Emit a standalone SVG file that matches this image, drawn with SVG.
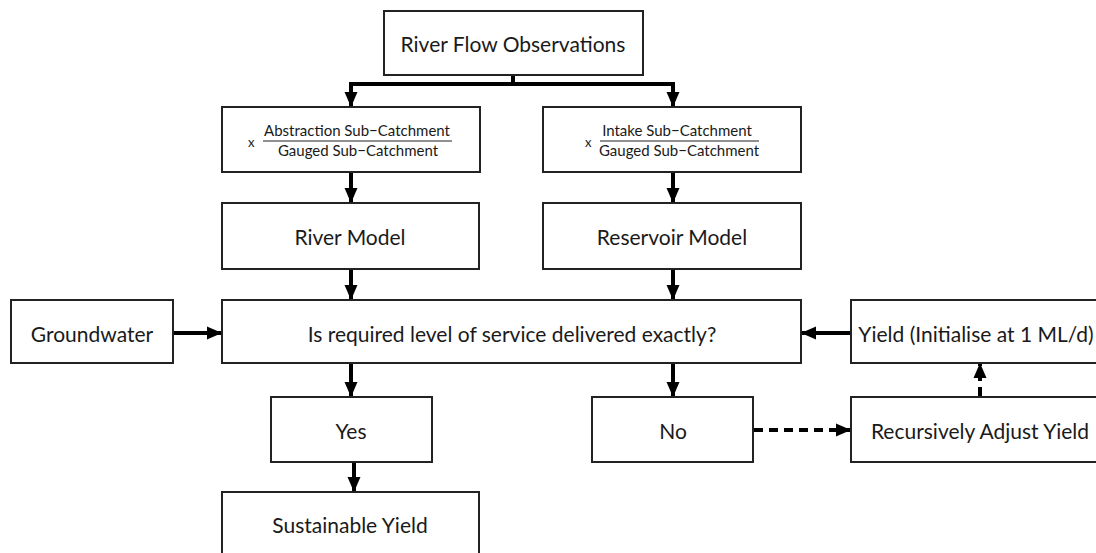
<svg xmlns="http://www.w3.org/2000/svg" width="1096" height="553" viewBox="0 0 1096 553">
<style>
.box{fill:#fff;stroke:#222;stroke-width:2}
.t{font-family:Lato,"Open Sans","Liberation Sans",sans-serif;font-size:21px;fill:#1a1a1a;text-anchor:middle;dominant-baseline:central}
.f{font-family:Lato,"Open Sans","Liberation Sans",sans-serif;font-size:15px;fill:#1a1a1a;text-anchor:middle}
.x{font-family:Lato,"Open Sans","Liberation Sans",sans-serif;font-size:13px;fill:#1a1a1a}
.c{fill:none;stroke:#000;stroke-width:4}
.d{fill:none;stroke:#000;stroke-width:4;stroke-dasharray:9 6}
</style>
<defs>
<marker id="ah" markerUnits="userSpaceOnUse" markerWidth="15" markerHeight="15" viewBox="0 0 15 15" refX="14" refY="7.5" orient="auto">
<path d="M0,1 L15,7.5 L0,14 z" fill="#000"/>
</marker>
</defs>
<g id="connectors">
<path class="c" d="M513,75 V84 M349,84 H675"/>
<path class="c" d="M351,84 V106" marker-end="url(#ah)"/>
<path class="c" d="M673,84 V106" marker-end="url(#ah)"/>
<path class="c" d="M351,172 V202" marker-end="url(#ah)"/>
<path class="c" d="M673,172 V202" marker-end="url(#ah)"/>
<path class="c" d="M351,269 V299" marker-end="url(#ah)"/>
<path class="c" d="M673,269 V299" marker-end="url(#ah)"/>
<path class="c" d="M173,333 H221" marker-end="url(#ah)"/>
<path class="c" d="M851,333 H802" marker-end="url(#ah)"/>
<path class="c" d="M351,363 V396" marker-end="url(#ah)"/>
<path class="c" d="M673,363 V396" marker-end="url(#ah)"/>
<path class="c" d="M354,462 V491" marker-end="url(#ah)"/>
<path class="d" d="M754,430 H850" marker-end="url(#ah)"/>
<path class="d" d="M980,396 V364" marker-end="url(#ah)"/>
</g>
<g id="obs"><rect class="box" x="384" y="11" width="259" height="64"/><text class="t" x="513" y="43">River Flow Observations</text></g>
<g id="scale-left"><rect class="box" x="222" y="107" width="258" height="65"/>
<text class="x" x="248" y="147">x</text>
<text class="f" x="357" y="136">Abstraction Sub−Catchment</text>
<line x1="263" y1="141" x2="452" y2="141" stroke="#222" stroke-width="1.2"/>
<text class="f" x="358" y="156">Gauged Sub−Catchment</text></g>
<g id="scale-right"><rect class="box" x="543" y="107" width="258" height="65"/>
<text class="x" x="585" y="147">x</text>
<text class="f" x="677" y="136">Intake Sub−Catchment</text>
<line x1="600" y1="141" x2="759" y2="141" stroke="#222" stroke-width="1.2"/>
<text class="f" x="679" y="156">Gauged Sub−Catchment</text></g>
<g id="river"><rect class="box" x="222" y="203" width="257" height="66"/><text class="t" x="350" y="236">River Model</text></g>
<g id="reservoir"><rect class="box" x="543" y="203" width="258" height="66"/><text class="t" x="672" y="236">Reservoir Model</text></g>
<g id="question"><rect class="box" x="222" y="300" width="579" height="63"/><text class="t" x="512" y="333">Is required level of service delivered exactly?</text></g>
<g id="groundwater"><rect class="box" x="11" y="300" width="162" height="63"/><text class="t" x="92" y="333">Groundwater</text></g>
<g id="yield"><rect class="box" x="851" y="300" width="258" height="63"/><text class="t" x="976" y="333">Yield (Initialise at 1 ML/d)</text></g>
<g id="yes"><rect class="box" x="271" y="397" width="161" height="65"/><text class="t" x="351" y="430">Yes</text></g>
<g id="no"><rect class="box" x="592" y="397" width="161" height="65"/><text class="t" x="673" y="430">No</text></g>
<g id="adjust"><rect class="box" x="851" y="397" width="258" height="65"/><text class="t" x="980" y="430">Recursively Adjust Yield</text></g>
<g id="sustainable"><rect class="box" x="222" y="492" width="257" height="70"/><text class="t" x="350" y="524">Sustainable Yield</text></g>
</svg>
